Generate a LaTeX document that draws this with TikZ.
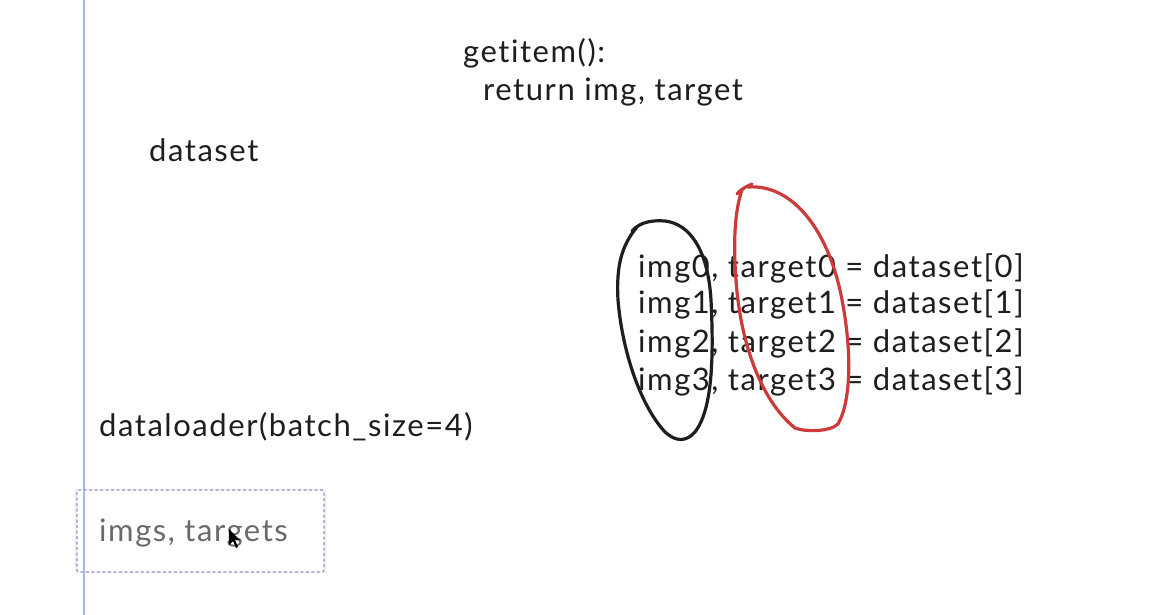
\documentclass[tikz,border=0pt]{standalone}
\usepackage{fontspec}
\setmainfont{Lato}[LetterSpace=5, Ligatures=NoCommon]
\usetikzlibrary{shadows}
\definecolor{margin}{HTML}{A9B5EA}
\definecolor{boxedge}{HTML}{8C92CC}
\definecolor{ink}{HTML}{1E1E1E}
\definecolor{inkgray}{HTML}{6A6A6A}
\definecolor{redpen}{HTML}{CC3A3A}
\tikzset{
  hand/.style={font=\fontsize{31}{36}\selectfont, text=ink, inner sep=0pt, anchor=base west},
  loop/.style={line width=3.2pt, line cap=round, line join=round},
}
\begin{document}
\begin{tikzpicture}[x=1pt,y=-1pt]
\useasboundingbox[fill=white] (0,0) rectangle (1176,615);
% margin rule
\draw[margin, line width=2pt] (84,0) -- (84,615);

% getitem text
\node[hand] (get) at (463,63) {getitem():};
\node[hand] (ret) at (483,101) {return img, target};
\node[hand] (ds) at (149,162) {dataset};

% unpacked batch items
\node[hand] (l0) at (638,277) {img0, target0 = dataset[0]};
\node[hand] (l1) at (638,313) {img1, target1 = dataset[1]};
\node[hand] (l2) at (638,352) {img2, target2 = dataset[2]};
\node[hand] (l3) at (638,390) {img3, target3 = dataset[3]};

\node[hand] (dl) at (99,436) {dataloader(batch\_size=4)};

% output box
\draw[boxedge, dash pattern=on 3pt off 2.5pt, line width=1.1pt, rounded corners=2pt,
      drop shadow={opacity=0.12, shadow xshift=0pt, shadow yshift=0pt, shadow scale=1.02}, fill=white]
  (77,490) rectangle (324,572);
\draw[margin, line width=2pt] (84,490) -- (84,572);
\node[hand, text=inkgray] (out) at (99,541) {imgs, targets};

% cursor
\fill[black] (229,529) -- (229,545) -- (233,541) -- (236,548) -- (238,547) -- (235,540) -- (240,540) -- cycle;

% black loop around images
\draw[ink, loop] (632,231) .. controls (640,222) and (652,220) .. (665,221)
  .. controls (690,224) and (708,250) .. (711,300)
  .. controls (714,360) and (712,410) .. (695,432)
  .. controls (686,442) and (676,442) .. (665,432)
  .. controls (640,405) and (622,350) .. (618,300)
  .. controls (616,265) and (622,245) .. (637,227);

% red loop around targets
\draw[redpen, loop] (737,194) .. controls (742,188) and (748,186) .. (752,184)
  (748,187) .. controls (790,184) and (825,225) .. (840,290)
  .. controls (852,345) and (852,400) .. (838,424)
  .. controls (830,432) and (805,432) .. (795,428)
  .. controls (760,400) and (740,340) .. (736,280)
  .. controls (733,240) and (735,210) .. (742,190);
\end{tikzpicture}
\end{document}
